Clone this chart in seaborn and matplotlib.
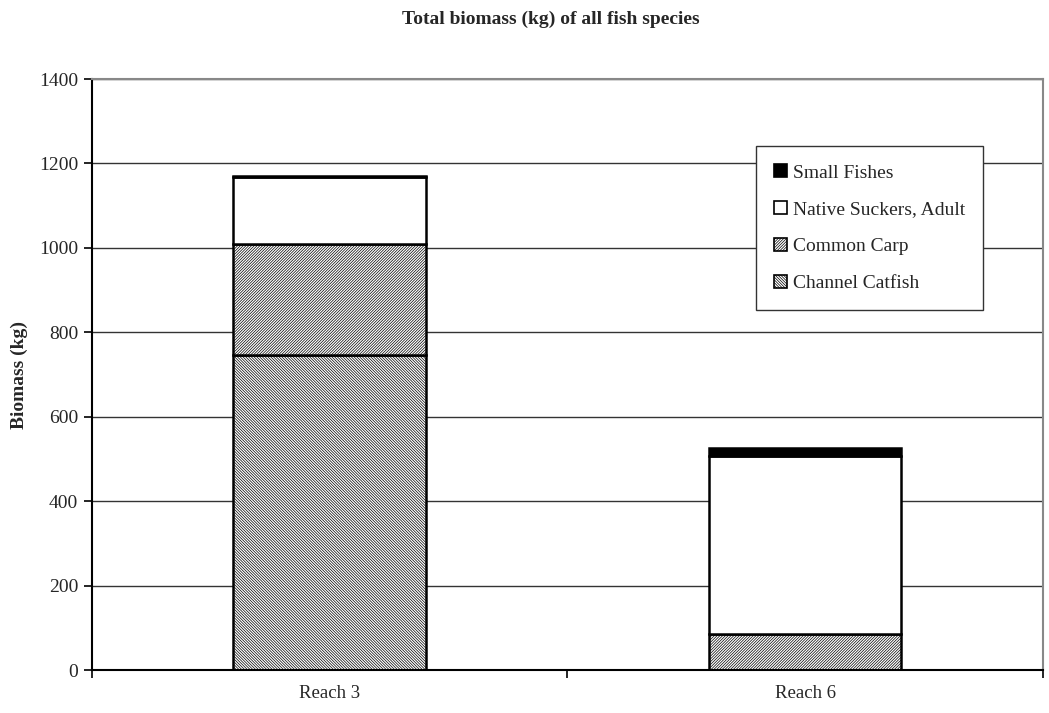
import pandas as pd
import numpy as np
import matplotlib
matplotlib.use("Agg")
import matplotlib.pyplot as plt
import seaborn as sns
from matplotlib.patches import Patch

sns.set_theme(style="white")
plt.rcParams["font.family"] = ["Liberation Serif", "DejaVu Serif"]
plt.rcParams["hatch.linewidth"] = 0.5

# ---------------------------------------------------------
# Data
# ---------------------------------------------------------
reaches = ["Reach 3", "Reach 6"]
species = ["Channel Catfish", "Common Carp", "Native Suckers, Adult", "Small Fishes"]
channel_catfish = [746, 0]
common_carp = [263, 85]
native_suckers = [159, 422]
small_fishes = [3, 20]

values = [channel_catfish, common_carp, native_suckers, small_fishes]
faces = ["white", "white", "white", "black"]
hatches = ["\\" * 12, "/" * 12, "", ""]

# ---------------------------------------------------------
# Stacked bar chart
# ---------------------------------------------------------
fig = plt.figure(figsize=(10.49, 7.13), dpi=100)
ax = fig.add_axes([0.0877, 0.0603, 0.9063, 0.8289])

bottom = np.zeros(len(reaches))
for name, vals, fc, hatch in zip(species, values, faces, hatches):
    df = pd.DataFrame({"Reach": reaches, "Biomass": vals})
    n_before = len(ax.patches)
    sns.barplot(data=df, x="Reach", y="Biomass", bottom=bottom, color=fc,
                width=0.405, edgecolor="black", linewidth=1.8, ax=ax)
    for p in ax.patches[n_before:]:
        p.set_facecolor(fc)
        p.set_hatch(hatch)
        if p.get_height() == 0:
            p.set_visible(False)
    bottom = bottom + np.array(vals)

ax.set_xlim(-0.5, 1.5)
ax.set_ylim(0, 1400)
ax.set_yticks(range(0, 1401, 200))
ax.yaxis.grid(True, color="#333333", linewidth=1.0)
ax.set_axisbelow(True)

ax.set_xticks([0, 1])
ax.set_xticklabels(reaches, fontsize=13.5)
ax.set_xticks([-0.5, 0.5, 1.5], minor=True)
ax.tick_params(axis="x", which="major", length=0, pad=11)
ax.tick_params(axis="x", which="minor", length=6, width=1.2, color="black", direction="out")
ax.tick_params(axis="y", length=6, width=1.2, color="black", direction="out", labelsize=14, pad=4)
ax.yaxis.set_ticks_position("left")
ax.xaxis.set_ticks_position("bottom")

for side in ["left", "bottom"]:
    ax.spines[side].set_color("black")
    ax.spines[side].set_linewidth(1.5)
for side in ["top", "right"]:
    ax.spines[side].set_color("#888888")
    ax.spines[side].set_linewidth(1.5)

ax.set_xlabel("")
ax.set_ylabel("Biomass (kg)", fontsize=14, fontweight="bold", labelpad=8)
fig.suptitle("Total biomass (kg) of all fish species", x=0.525, y=0.985,
             fontsize=14, fontweight="bold")

handles = [Patch(facecolor=fc, edgecolor="black", hatch=h, linewidth=1.2)
           for fc, h in zip(faces, hatches)]
leg = ax.legend(handles[::-1], species[::-1], loc="upper left",
                bbox_to_anchor=(0.698, 0.887), fontsize=14, frameon=True,
                fancybox=False, edgecolor="#333333", framealpha=1,
                handlelength=0.65, handleheight=0.65, handletextpad=0.3,
                labelspacing=1.0, borderpad=0.95, borderaxespad=0)
leg.get_frame().set_linewidth(1.0)

fig.savefig("out.png", dpi=100)
